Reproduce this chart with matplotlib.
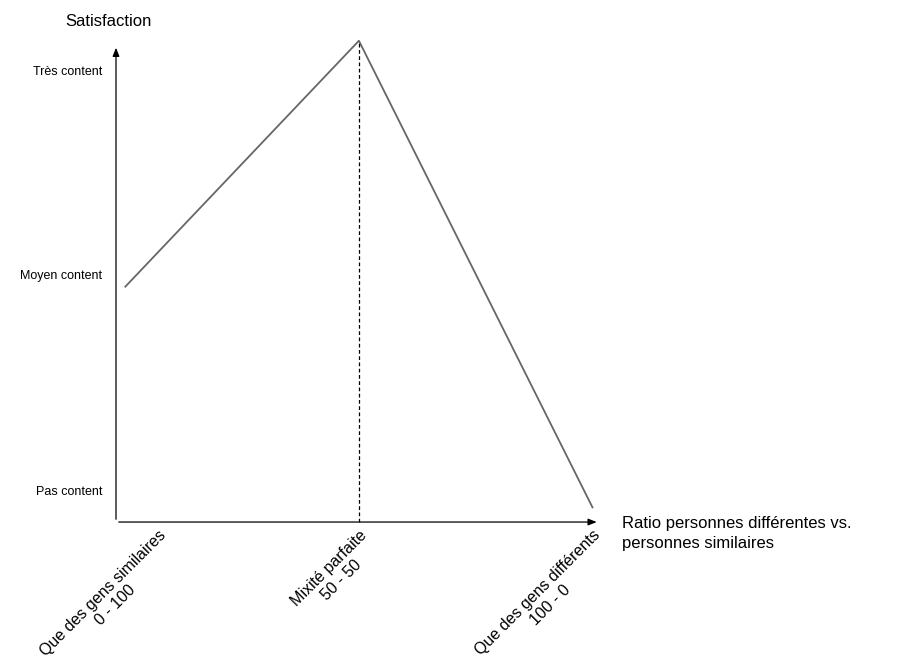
import matplotlib.pyplot as plt

plt.rcParams['font.family'] = ['Liberation Sans', 'DejaVu Sans']

# ratio (% different) vs satisfaction level
ratio = [0, 50, 100]
satisfaction = [0.97, 2.14, -0.08]
level_names = ["Pas content", "Moyen content", "Très content"]
level_values = [0, 1.03, 2]
tick_pos = [7, 50, 100]
tick_names = ["Que des gens similaires\n0 - 100", "Mixité parfaite\n50 - 50",
              "Que des gens différents\n100 - 0"]

fig = plt.figure(figsize=(9.02, 6.71), dpi=100)
ax = fig.add_axes([0.1286, 0.222, 0.536, 0.711])
ax.set_xlim(-2.0, 101.5)
ax.set_ylim(-0.15, 2.12)

ax.plot(ratio, satisfaction, color="#666666", lw=1.3, clip_on=False)
ax.plot([ratio[1], ratio[1]], [-0.15, satisfaction[1]], color="black",
        ls=(0, (3, 2)), lw=0.9, clip_on=False)

for s in ax.spines.values():
    s.set_visible(False)
ax.annotate("", xy=(1.0, 0), xytext=(0, 0), xycoords="axes fraction",
            arrowprops=dict(arrowstyle="-|>,head_length=0.5,head_width=0.2",
                            color="black", lw=0.9))
ax.annotate("", xy=(0, 1.0), xytext=(0, 0), xycoords="axes fraction",
            arrowprops=dict(arrowstyle="-|>,head_length=0.5,head_width=0.2",
                            color="black", lw=0.9))

ax.set_yticks(level_values)
ax.set_yticklabels(level_names, fontsize=9)
ax.tick_params(axis="y", length=0, pad=10)
ax.set_xticks(tick_pos)
ax.set_xticklabels(tick_names, fontsize=11.5, rotation=45, ha="right",
                   rotation_mode="anchor", multialignment="center")
ax.tick_params(axis="x", length=0, pad=4)

fig.text(0.072, 0.968, "Satisfaction", fontsize=12, va="center")
fig.text(0.69, 0.205, "Ratio personnes différentes vs.\npersonnes similaires",
         fontsize=12, va="center", ha="left", linespacing=1.4)

fig.savefig("out.png", dpi=100)
